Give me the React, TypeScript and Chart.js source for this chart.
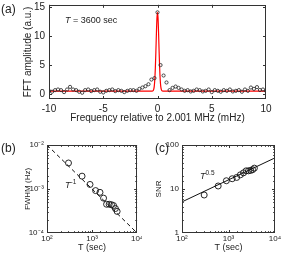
import React, { useEffect, useRef } from 'react';
import { Chart, registerables } from 'chart.js';

Chart.register(...registerables);

const FONT = "'Liberation Sans', Arial, Helvetica, sans-serif";
const INK = '#222';

// ---------- Panel (a): FFT spectrum ----------
const FFT_FREQ_MHZ = [
  -10.0, -9.72, -9.44, -9.17, -8.89, -8.61, -8.33, -8.06, -7.78, -7.5, -7.22, -6.94,
  -6.67, -6.39, -6.11, -5.83, -5.56, -5.28, -5.0, -4.72, -4.44, -4.17, -3.89, -3.61,
  -3.33, -3.06, -2.78, -2.5, -2.22, -1.94, -1.67, -1.39, -1.11, -0.83, -0.56, -0.28,
  0.0,
  0.28, 0.56, 0.83, 1.11, 1.39, 1.67, 1.94, 2.22, 2.5, 2.78, 3.06, 3.33,
  3.61, 3.89, 4.17, 4.44, 4.72, 5.0, 5.28, 5.56, 5.83, 6.11, 6.39, 6.67,
  6.94, 7.22, 7.5, 7.78, 8.06, 8.33, 8.61, 8.89, 9.17, 9.44, 9.72, 10.0,
];
const FFT_AMP = [
  0.56, 0.4, 0.68, 0.79, 0.68, 0.34, 0.79, 1.24, 0.79, 0.68, 0.4, 0.23,
  0.68, 0.79, 0.51, 0.68, 0.79, 0.4, 0.28, 0.56, 0.68, 0.79, 0.51, 0.68,
  0.56, 0.34, 0.56, 0.68, 0.68, 0.56, 0.9, 1.13, 1.36, 1.7, 2.5, 2.75,
  14.1,
  5.0, 3.2, 2.0, 0.68, 1.07, 1.3, 1.07, 0.79, 0.56, 0.68, 0.45, 0.56,
  0.79, 0.68, 0.45, 0.56, 0.79, 0.34, 0.68, 0.56, 0.4, 0.68, 0.56, 0.79,
  0.45, 0.56, 0.68, 0.4, 0.79, 0.56, 1.13, 0.9, 1.2, 0.7, 0.79, 0.56,
];
const FIT_FREQ_MHZ = [-10, -0.5, -0.4, -0.35, -0.3, -0.25, -0.2, -0.15, -0.1, -0.05, 0, 0.05, 0.1, 0.15, 0.2, 0.25, 0.3, 0.35, 0.4, 0.5, 10];
const FIT_AMP = [0.5, 0.5, 0.59, 0.8, 1.33, 2.46, 4.43, 7.26, 10.5, 13.1, 14.1, 13.1, 10.5, 7.26, 4.43, 2.46, 1.33, 0.8, 0.59, 0.5, 0.5];

// ---------- Panels (b), (c) ----------
const T_SEC = [300, 600, 900, 1200, 1500, 1800, 2100, 2400, 2700, 3000, 3300, 3600];
const FWHM_HZ = [3.9e-3, 1.96e-3, 1.27e-3, 9.2e-4, 8.4e-4, 6.2e-4, 4.5e-4, 4.5e-4, 4.4e-4, 4.2e-4, 3.6e-4, 3.1e-4];
const SNR = [7.3, 11.7, 15.4, 17.1, 18.3, 21, 23.3, 25.9, 25.9, 26.5, 27.5, 29.8];
const FWHM_FIT_T = [100, 10000];
const FWHM_FIT = [1e-2, 1e-4];
const SNR_FIT_T = [100, 10000];
const SNR_FIT = [5.1, 51];

const T_TICK_LABELS: Record<number, string> = { 2: '10²', 3: '10³', 4: '10⁴' };
const FWHM_TICK_LABELS: Record<number, string> = { [-4]: '10⁻⁴', [-3]: '10⁻³', [-2]: '10⁻²' };
const SNR_TICK_LABELS: Record<number, string> = { 0: '1', 1: '10', 2: '100' };

const zip = (xs: number[], ys: number[]) => xs.map((x, i) => ({ x, y: ys[i] }));

const zeroPad = (s: any) => {
  s.paddingLeft = 0;
  s.paddingRight = 0;
  s.paddingTop = 0;
  s.paddingBottom = 0;
};
const fixW = (w: number) => (s: any) => {
  s.width = w;
  zeroPad(s);
};
const fixH = (h: number) => (s: any) => {
  s.height = h;
  zeroPad(s);
};

const logLabel = (map: Record<number, string>) => (v: any) => {
  const e = Math.log10(Number(v));
  const r = Math.round(e);
  if (Math.abs(e - r) < 1e-6 && map[r] !== undefined) return map[r];
  return '';
};

const frameTicks = {
  id: 'frameTicks',
  afterDraw(chart: any) {
    const { ctx, chartArea } = chart;
    const { left, right, top, bottom } = chartArea;
    const xs = chart.scales.x;
    const ys = chart.scales.y;
    const major = (s: any, v: number) => {
      if (s.type !== 'logarithmic') return true;
      const e = Math.log10(v);
      return Math.abs(e - Math.round(e)) < 1e-6;
    };
    ctx.save();
    ctx.strokeStyle = '#333';
    ctx.lineWidth = 1;
    ctx.beginPath();
    for (const t of xs.ticks) {
      const p = Math.round(xs.getPixelForValue(t.value)) + 0.5;
      if (p < left || p > right) continue;
      const len = major(xs, t.value) ? 3 : 1.8;
      ctx.moveTo(p, bottom);
      ctx.lineTo(p, bottom - len);
      ctx.moveTo(p, top);
      ctx.lineTo(p, top + len);
    }
    for (const t of ys.ticks) {
      const p = Math.round(ys.getPixelForValue(t.value)) + 0.5;
      if (p < top || p > bottom) continue;
      const len = major(ys, t.value) ? 3 : 1.8;
      ctx.moveTo(left, p);
      ctx.lineTo(left + len, p);
      ctx.moveTo(right, p);
      ctx.lineTo(right - len, p);
    }
    ctx.stroke();
    ctx.strokeRect(Math.round(left) + 0.5, Math.round(top) + 0.5, Math.round(right - left) - 1, Math.round(bottom - top) - 1);
    ctx.restore();
  },
};

function configA(): any {
  return {
    type: 'scatter',
    data: {
      datasets: [
        {
          data: zip(FFT_FREQ_MHZ, FFT_AMP),
          pointRadius: 1.6,
          pointBorderWidth: 0.8,
          borderColor: '#222',
          backgroundColor: 'rgba(0,0,0,0)',
          order: 1,
        },
        {
          data: zip(FIT_FREQ_MHZ, FIT_AMP),
          showLine: true,
          borderColor: '#ff0000',
          borderWidth: 1.2,
          pointRadius: 0,
          cubicInterpolationMode: 'monotone',
          order: 2,
        },
      ],
    },
    options: {
      animation: false,
      responsive: false,
      maintainAspectRatio: false,
      events: [],
      layout: { padding: { left: 0, top: 3, right: 15, bottom: 0 } },
      plugins: { legend: { display: false }, tooltip: { enabled: false } },
      scales: {
        x: {
          type: 'linear',
          min: -10,
          max: 10,
          grid: { display: false, drawTicks: false },
          border: { display: false },
          ticks: { stepSize: 5, includeBounds: false, padding: 4, maxRotation: 0, autoSkip: false, color: INK, font: { family: FONT, size: 10 } },
          title: { display: true, text: 'Frequency relative to 2.001 MHz (mHz)', color: INK, font: { family: FONT, size: 10 }, padding: { top: 0, bottom: 0 } },
          afterFit: fixH(25),
        },
        y: {
          type: 'linear',
          min: -0.85,
          max: 15.4,
          grid: { display: false, drawTicks: false },
          border: { display: false },
          ticks: { stepSize: 5, includeBounds: false, padding: 4, autoSkip: false, color: INK, font: { family: FONT, size: 10 } },
          title: { display: true, text: 'FFT amplitude (a.u.)', color: INK, font: { family: FONT, size: 10 }, padding: { top: 22, bottom: 0 } },
          afterFit: fixW(49),
        },
      },
    },
    plugins: [frameTicks],
  };
}

function configLog(opts: {
  pts: { x: number; y: number }[];
  fit: { x: number; y: number }[];
  dash: number[];
  yMin: number;
  yMax: number;
  yLabels: Record<number, string>;
  yTitle: string;
  yTitlePad: number;
  yWidth: number;
  padRight: number;
}): any {
  return {
    type: 'scatter',
    data: {
      datasets: [
        {
          data: opts.pts,
          pointRadius: 3,
          pointBorderWidth: 0.9,
          borderColor: '#111',
          backgroundColor: 'rgba(0,0,0,0)',
          order: 1,
        },
        {
          data: opts.fit,
          showLine: true,
          borderColor: '#111',
          borderWidth: 1,
          borderDash: opts.dash,
          pointRadius: 0,
          order: 2,
        },
      ],
    },
    options: {
      animation: false,
      responsive: false,
      maintainAspectRatio: false,
      events: [],
      layout: { padding: { left: 0, top: 15, right: opts.padRight, bottom: 0 } },
      plugins: { legend: { display: false }, tooltip: { enabled: false } },
      scales: {
        x: {
          type: 'logarithmic',
          min: 100,
          max: 10000,
          grid: { display: false, drawTicks: false },
          border: { display: false },
          ticks: { padding: 1, maxRotation: 0, autoSkip: false, color: INK, font: { family: FONT, size: 8 }, callback: logLabel(T_TICK_LABELS) },
          title: { display: true, text: 'T (sec)', color: INK, font: { family: FONT, size: 9 }, padding: { top: 0, bottom: 0 } },
          afterFit: fixH(20),
        },
        y: {
          type: 'logarithmic',
          min: opts.yMin,
          max: opts.yMax,
          grid: { display: false, drawTicks: false },
          border: { display: false },
          ticks: { padding: 3, autoSkip: false, color: INK, font: { family: FONT, size: 8 }, callback: logLabel(opts.yLabels) },
          title: { display: true, text: opts.yTitle, color: INK, font: { family: FONT, size: 8 }, padding: { top: opts.yTitlePad, bottom: 0 } },
          afterFit: fixW(opts.yWidth),
        },
      },
    },
    plugins: [frameTicks],
  };
}

function ChartCanvas(props: { left: number; top: number; width: number; height: number; make: () => any }) {
  const ref = useRef<HTMLCanvasElement>(null);
  useEffect(() => {
    const chart = new Chart(ref.current as HTMLCanvasElement, props.make());
    return () => chart.destroy();
  }, []);
  return (
    <canvas
      ref={ref}
      width={props.width}
      height={props.height}
      style={{ position: 'absolute', left: props.left, top: props.top, width: props.width, height: props.height }}
    />
  );
}

const txt = (left: number, top: number, size: number): React.CSSProperties => ({
  position: 'absolute',
  left,
  top,
  fontSize: size,
  lineHeight: 1,
  fontFamily: FONT,
  color: INK,
  whiteSpace: 'nowrap',
});

export default function App() {
  return (
    <div style={{ position: 'absolute', left: 0, top: 0, width: 281, height: 261, background: '#fff', overflow: 'hidden' }}>
      <ChartCanvas left={0} top={0} width={281} height={124} make={configA} />
      <ChartCanvas
        left={0}
        top={130}
        width={142}
        height={123}
        make={() =>
          configLog({
            pts: zip(T_SEC, FWHM_HZ),
            fit: zip(FWHM_FIT_T, FWHM_FIT),
            dash: [4, 3],
            yMin: 1e-4,
            yMax: 1e-2,
            yLabels: FWHM_TICK_LABELS,
            yTitle: 'FWHM (Hz)',
            yTitlePad: 23,
            yWidth: 47,
            padRight: 3,
          })
        }
      />
      <ChartCanvas
        left={140}
        top={130}
        width={141}
        height={123}
        make={() =>
          configLog({
            pts: zip(T_SEC, SNR),
            fit: zip(SNR_FIT_T, SNR_FIT),
            dash: [],
            yMin: 1,
            yMax: 100,
            yLabels: SNR_TICK_LABELS,
            yTitle: 'SNR',
            yTitlePad: 14,
            yWidth: 42,
            padRight: 6,
          })
        }
      />
      <div style={txt(1, 3, 12)}>(a)</div>
      <div style={txt(1, 142, 12)}>(b)</div>
      <div style={txt(155, 142, 12)}>(c)</div>
      <div style={txt(65, 15.5, 9)}>
        <i>T</i> = 3600 sec
      </div>
      <div style={txt(65, 180.5, 9)}>
        <i>T</i>
        <span style={{ fontSize: 6.5, position: 'relative', top: -4 }}>-1</span>
      </div>
      <div style={txt(200, 171.5, 9)}>
        <i>T</i>
        <span style={{ fontSize: 6.5, position: 'relative', top: -4 }}>0.5</span>
      </div>
    </div>
  );
}
